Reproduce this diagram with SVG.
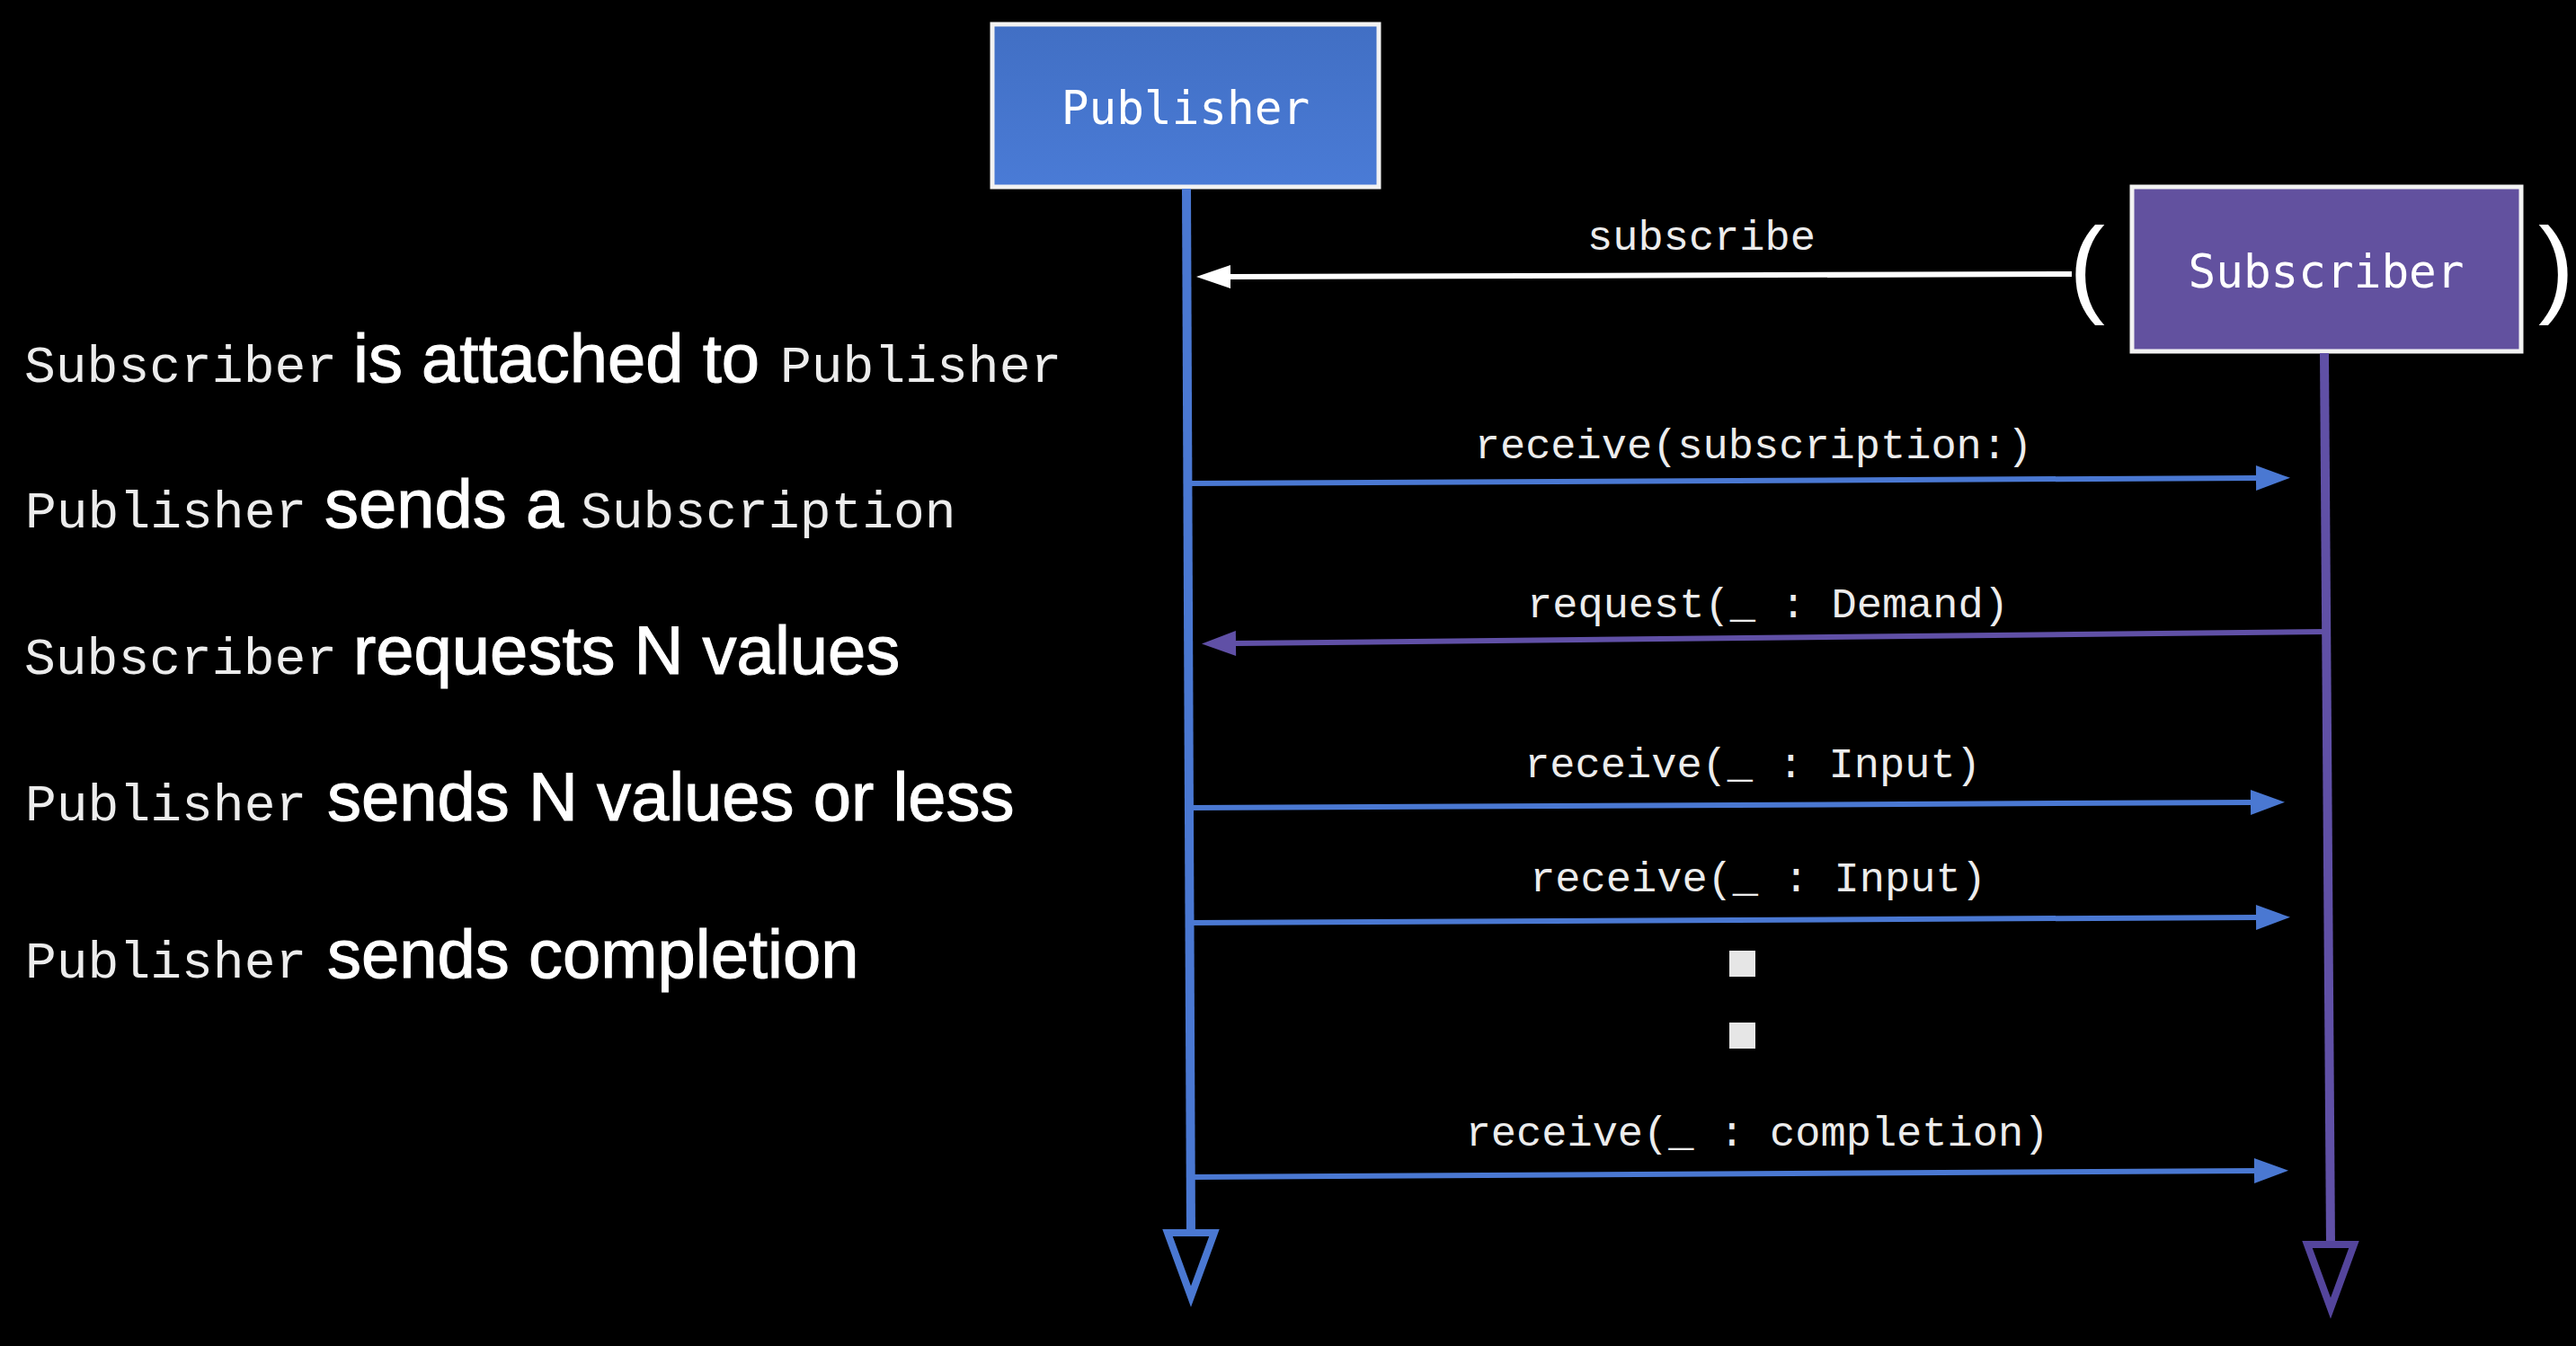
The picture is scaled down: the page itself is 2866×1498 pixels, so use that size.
<svg xmlns="http://www.w3.org/2000/svg" width="2866" height="1498" viewBox="0 0 2866 1498">
  <style>
    .mono { font-family: "Liberation Mono", "Courier New", monospace; fill: #ececec; }
    .sans { font-family: "Liberation Sans", Arial, sans-serif; fill: #ffffff; stroke: #ffffff; stroke-width: 1.1; }
    .lbl { font-family: "Liberation Mono", "Courier New", monospace; font-size: 47px; fill: #ececec; text-anchor: middle; }
    .box { font-family: "DejaVu Sans Mono", monospace; font-size: 51px; fill: #ffffff; text-anchor: middle; }
    .paren { font-family: "Liberation Sans", Arial, sans-serif; font-size: 120px; fill: #ffffff; }
    .blue { stroke: #4A78D2; fill: none; }
    .purple { stroke: #6050A6; fill: none; }
  </style>
  <defs>
    <linearGradient id="gPub" x1="0" y1="0" x2="0" y2="1">
      <stop offset="0" stop-color="#416FC4"/>
      <stop offset="1" stop-color="#4A7BD6"/>
    </linearGradient>
    <marker id="hBlue" markerUnits="userSpaceOnUse" markerWidth="40" markerHeight="30" refX="0" refY="14" orient="auto" overflow="visible">
      <path d="M0,0 L38,14 L0,28 Z" fill="#4A78D2"/>
    </marker>
    <marker id="hPurple" markerUnits="userSpaceOnUse" markerWidth="40" markerHeight="30" refX="0" refY="14" orient="auto" overflow="visible">
      <path d="M0,0 L38,14 L0,28 Z" fill="#6050A6"/>
    </marker>
    <marker id="hWhite" markerUnits="userSpaceOnUse" markerWidth="40" markerHeight="30" refX="0" refY="13" orient="auto" overflow="visible">
      <path d="M0,0 L38,13 L0,26 Z" fill="#ffffff"/>
    </marker>
  </defs>
  <rect x="0" y="0" width="2866" height="1498" fill="#000000"/>

  <g id="steps">
    <text y="425"><tspan class="mono" x="27" font-size="58">Subscriber</tspan><tspan class="sans" x="393" font-size="76">is attached to</tspan><tspan class="mono" x="868" font-size="58">Publisher</tspan></text>
    <text y="587"><tspan class="mono" x="28" font-size="58">Publisher</tspan><tspan class="sans" x="361" font-size="76">sends a</tspan><tspan class="mono" x="646" font-size="58">Subscription</tspan></text>
    <text y="750"><tspan class="mono" x="27" font-size="58">Subscriber</tspan><tspan class="sans" x="393" font-size="76">requests N values</tspan></text>
    <text y="913"><tspan class="mono" x="28" font-size="58">Publisher</tspan><tspan class="sans" x="364" font-size="76">sends N values or less</tspan></text>
    <text y="1088"><tspan class="mono" x="28" font-size="58">Publisher</tspan><tspan class="sans" x="364" font-size="76">sends completion</tspan></text>
  </g>

  <g id="publisher">
    <rect x="1104" y="27" width="430" height="181" fill="url(#gPub)" stroke="#f2f2f2" stroke-width="5"/>
    <text class="box" x="1319" y="138">Publisher</text>
  </g>

  <g id="subscriber">
    <rect x="2372" y="208" width="433" height="183" fill="#62519F" stroke="#f2f2f2" stroke-width="5"/>
    <text class="box" x="2588" y="320">Subscriber</text>
    <text class="paren" x="2302" y="337">(</text>
    <text class="paren" x="2824" y="337">)</text>
  </g>

  <g id="connectors">
    <line class="blue" x1="1320" y1="210" x2="1325" y2="1374" stroke-width="10"/>
    <polygon points="1299,1372 1351,1372 1325,1443" fill="#000" stroke="#4A78D2" stroke-width="8" stroke-linejoin="miter"/>
    <line class="purple" x1="2586" y1="393" x2="2593" y2="1387" stroke-width="10" stroke="#5A4AA2"/>
    <polygon points="2567,1385 2619,1385 2593,1456" fill="#000" stroke="#54459C" stroke-width="8" stroke-linejoin="miter"/>

    <line x1="2305" y1="305" x2="1369" y2="308" stroke="#ffffff" stroke-width="6" marker-end="url(#hWhite)"/>
    <text class="lbl" x="1893" y="278">subscribe</text>

    <line class="blue" x1="1325" y1="538" x2="2510" y2="532" stroke-width="6" marker-end="url(#hBlue)"/>
    <text class="lbl" x="1951" y="510">receive(subscription:)</text>

    <line class="purple" x1="2588" y1="703" x2="1375" y2="716" stroke-width="6" marker-end="url(#hPurple)"/>
    <text class="lbl" x="1967" y="687">request(_ : Demand)</text>

    <line class="blue" x1="1325" y1="899" x2="2504" y2="893" stroke-width="6" marker-end="url(#hBlue)"/>
    <text class="lbl" x="1950" y="865">receive(_ : Input)</text>

    <line class="blue" x1="1325" y1="1027" x2="2510" y2="1021" stroke-width="6" marker-end="url(#hBlue)"/>
    <text class="lbl" x="1956" y="992">receive(_ : Input)</text>

    <rect x="1924" y="1058" width="29" height="29" fill="#e6e6e6"/>
    <rect x="1924" y="1138" width="29" height="29" fill="#e6e6e6"/>

    <line class="blue" x1="1325" y1="1310" x2="2508" y2="1303" stroke-width="6" marker-end="url(#hBlue)"/>
    <text class="lbl" x="1955" y="1275">receive(_ : completion)</text>
  </g>
</svg>
